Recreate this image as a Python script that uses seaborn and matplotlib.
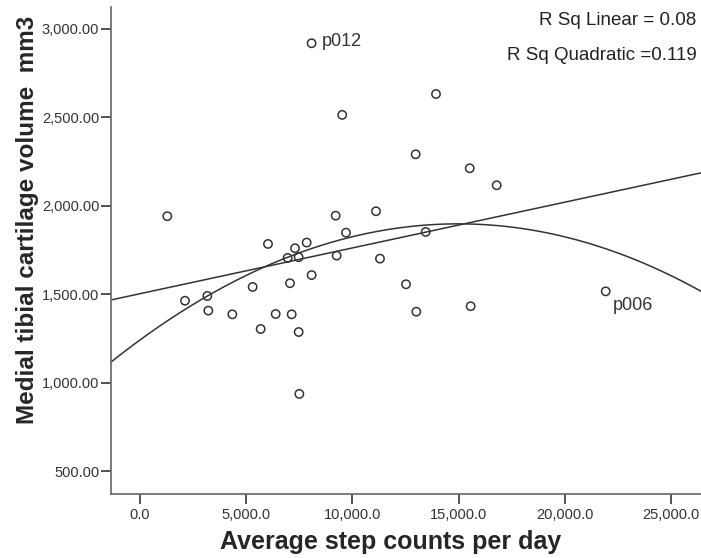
import matplotlib
matplotlib.use("Agg")
import matplotlib.pyplot as plt
import seaborn as sns
import numpy as np
import pandas as pd
from matplotlib.ticker import FuncFormatter

# ---- data ----
steps = [1286, 2119, 3170, 3217, 4347, 5304, 5681, 6026, 6388, 6952,
         7062, 7141, 7298, 7470, 7470, 7502, 7847, 8080, 8079, 9212,
         9259, 9520, 9699, 11111, 11299, 12524, 12978, 13010, 13450, 13936,
         15523, 15568, 16793, 21925]
volume = [1941, 1463, 1490, 1407, 1386, 1541, 1303, 1784, 1388, 1705,
          1562, 1386, 1760, 1709, 1286, 936, 1792, 1608, 2919, 1944,
          1718, 2514, 1848, 1969, 1701, 1556, 2291, 1401, 1852, 2632,
          2212, 1432, 2116, 1516]
ids = [""] * 34
ids[18] = "p012"
ids[33] = "p006"

x_ticks = [0, 5000, 10000, 15000, 20000, 25000]
y_ticks = [500, 1000, 1500, 2000, 2500, 3000]
r2_text = ["R Sq Linear = 0.08", "R Sq Quadratic =0.119"]

df = pd.DataFrame({"steps": steps, "volume": volume, "id": ids})

sns.set_style("ticks")
plt.rcParams["font.family"] = ["Liberation Sans", "DejaVu Sans"]

fig = plt.figure(figsize=(7.01, 5.58), dpi=100)
ax = fig.add_axes([111 / 701, 1 - 494 / 558, 590 / 701, 487 / 558])

ax.set_xlim(-1365, 26412)
ax.set_ylim(370, 3124)

line_kw = dict(color="#333333", lw=1.1)
sns.regplot(data=df, x="steps", y="volume", order=1, ci=None, scatter=False,
            truncate=False, line_kws=line_kw, ax=ax)
sns.regplot(data=df, x="steps", y="volume", order=2, ci=None, scatter=False,
            truncate=False, line_kws=line_kw, ax=ax)
ax.set_xlim(-1365, 26412)
ax.set_ylim(370, 3124)

sns.scatterplot(data=df, x="steps", y="volume", s=36, facecolors="none",
                edgecolor="#333333", linewidth=1.1, ax=ax, zorder=3)

for _, r in df[df["id"] != ""].iterrows():
    if r["id"] == "p012":
        off, va = (7, 1), "center"
    else:
        off, va = (5, -4), "top"
    ax.annotate(r["id"], (r["steps"], r["volume"]), xytext=off,
                textcoords="offset points", ha="left", va=va,
                fontsize=13, color="#333333")

ax.text(0.992, 0.972, r2_text[0], transform=ax.transAxes, ha="right",
        va="center", fontsize=13.5, color="#222222")
ax.text(0.992, 0.900, r2_text[1], transform=ax.transAxes, ha="right",
        va="center", fontsize=13.5, color="#222222")

ax.set_xticks(x_ticks)
ax.set_yticks(y_ticks)
ax.xaxis.set_major_formatter(FuncFormatter(lambda v, p: f"{v:,.1f}"))
ax.yaxis.set_major_formatter(FuncFormatter(lambda v, p: f"{v:,.2f}"))
ax.tick_params(axis="x", length=7, width=1.3, color="#444444", pad=3,
               labelsize=10.5, labelcolor="#333333")
ax.tick_params(axis="y", length=7, width=1.3, color="#444444", pad=1.5,
               labelsize=10.5, labelcolor="#333333")

for s in ["top", "right"]:
    ax.spines[s].set_visible(False)
for s in ["left", "bottom"]:
    ax.spines[s].set_color("#666666")
    ax.spines[s].set_linewidth(1.2)

ax.set_xlabel("Average step counts per day", fontsize=18, fontweight="bold",
              va="center")
ax.set_ylabel("Medial tibial cartilage volume  mm3", fontsize=17.5,
              fontweight="bold", va="center")
ax.xaxis.set_label_coords(0.4746, -0.0986)
ax.yaxis.set_label_coords(-0.1407, 0.5626)

fig.savefig("out.png", dpi=100)
